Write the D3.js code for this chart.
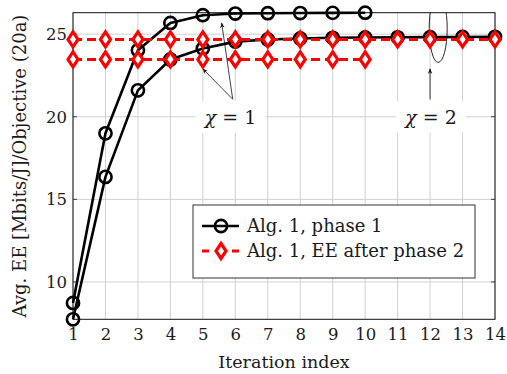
<!DOCTYPE html>
<html>
<head>
<meta charset="utf-8">
<script src="https://cdn.jsdelivr.net/npm/d3@7"></script>
<style>
  body { margin: 0; background: #fff; }
</style>
</head>
<body>
<svg id="chart" width="507" height="374"></svg>
<script>
// iteration index
var iters = [1, 2, 3, 4, 5, 6, 7, 8, 9, 10, 11, 12, 13, 14];
// Alg. 1, phase 1 (chi = 1, 10 iterations)
var phase1_chi1 = [8.73, 19.0, 24.03, 25.68, 26.15, 26.25, 26.27, 26.28, 26.29, 26.3];
// Alg. 1, phase 1 (chi = 2, 14 iterations)
var phase1_chi2 = [7.74, 16.36, 21.6, 23.47, 24.13, 24.55, 24.68, 24.74, 24.78, 24.8, 24.81, 24.82, 24.83, 24.84];
// EE after phase 2
var ee_chi1 = [23.47, 23.47, 23.47, 23.47, 23.47, 23.47, 23.47, 23.47, 23.47, 23.47];
var ee_chi2 = [24.68, 24.68, 24.68, 24.68, 24.68, 24.68, 24.68, 24.68, 24.68, 24.68, 24.68, 24.68, 24.68, 24.68];
var yTicks = [10, 15, 20, 25];
var legendLabels = ["Alg. 1, phase 1", "Alg. 1, EE after phase 2"];

var FONT = "'DejaVu Serif', 'Liberation Serif', serif";
var TXT = "#1a1a1a";

var svg = d3.select("#chart");
var x = d3.scaleLinear().domain([1, 14]).range([73, 495]);
var y = d3.scaleLinear().domain([7.74, 26.3]).range([319.3, 12.7]);

var defs = svg.append("defs");
defs.append("clipPath").attr("id", "plotclip")
  .append("rect").attr("x", 73).attr("y", 12.7).attr("width", 422).attr("height", 306.6);
defs.append("marker").attr("id", "arr")
  .attr("viewBox", "0 0 10 10").attr("refX", 9).attr("refY", 5)
  .attr("markerWidth", 7).attr("markerHeight", 7).attr("orient", "auto")
  .append("path").attr("d", "M0,1 L10,5 L0,9 L3,5 Z").attr("fill", "#111");

// grid
var grid = svg.append("g");
grid.selectAll(".gx").data(iters).enter().append("line")
  .attr("x1", function(d){ return x(d); }).attr("x2", function(d){ return x(d); })
  .attr("y1", y.range()[0]).attr("y2", y.range()[1])
  .attr("stroke", "#d0d0d0").attr("stroke-width", 1);
grid.selectAll(".gy").data(yTicks).enter().append("line")
  .attr("x1", x.range()[0]).attr("x2", x.range()[1])
  .attr("y1", function(d){ return y(d); }).attr("y2", function(d){ return y(d); })
  .attr("stroke", "#d0d0d0").attr("stroke-width", 1);

// axes
var xAxis = d3.axisBottom(x).tickValues(iters).tickSize(0).tickPadding(9).tickFormat(d3.format("d"));
var yAxis = d3.axisLeft(y).tickValues(yTicks).tickSize(0).tickPadding(6);
var gx = svg.append("g").attr("transform", "translate(0," + y.range()[0] + ")").call(xAxis);
var gy = svg.append("g").attr("transform", "translate(" + x.range()[0] + ",0)").call(yAxis);
[gx, gy].forEach(function(g){
  g.select(".domain").remove();
  g.attr("font-family", FONT).attr("font-size", 16.5);
  g.selectAll("text").attr("fill", TXT);
});
// small inner ticks
svg.append("g").selectAll("line").data(yTicks).enter().append("line")
  .attr("x1", x(1)).attr("x2", x(1) + 4)
  .attr("y1", function(d){ return y(d); }).attr("y2", function(d){ return y(d); })
  .attr("stroke", "#444");
svg.append("g").selectAll("line").data(yTicks).enter().append("line")
  .attr("x1", x(14)).attr("x2", x(14) - 4)
  .attr("y1", function(d){ return y(d); }).attr("y2", function(d){ return y(d); })
  .attr("stroke", "#444");

// annotation label boxes (white behind text, covering grid)
function chiLabel(cx, cy, num) {
  svg.append("rect").attr("x", x(cx) - 35).attr("y", y(cy) - 16)
    .attr("width", 70).attr("height", 32).attr("fill", "#fff");
  var t = svg.append("text").attr("x", x(cx)).attr("y", y(cy) + 7)
    .attr("text-anchor", "middle").attr("font-family", FONT).attr("font-size", 19).attr("fill", TXT);
  t.append("tspan").attr("font-style", "italic").text("χ");
  t.append("tspan").text(" = " + num);
}

// plot frame
svg.append("rect").attr("x", x(1)).attr("y", y.range()[1])
  .attr("width", x(14) - x(1)).attr("height", y.range()[0] - y.range()[1])
  .attr("fill", "none").attr("stroke", "#111").attr("stroke-width", 1);

chiLabel(5.85, 20, 1);
chiLabel(12.03, 20, 2);

// arrows
var arrows = [
  [5.92, 21.06, 5.0, 22.9],
  [5.92, 21.06, 5.58, 25.68],
  [12.0, 21.06, 12.0, 22.9]
];
svg.append("g").selectAll("line").data(arrows).enter().append("line")
  .attr("x1", function(d){ return x(d[0]); }).attr("y1", function(d){ return y(d[1]); })
  .attr("x2", function(d){ return x(d[2]); }).attr("y2", function(d){ return y(d[3]); })
  .attr("stroke", "#111").attr("stroke-width", 0.8).attr("marker-end", "url(#arr)");

var plot = svg.append("g").attr("clip-path", "url(#plotclip)");
plot.append("ellipse").attr("cx", x(12.25)).attr("cy", y(25.35))
  .attr("rx", 9).attr("ry", 34).attr("fill", "none").attr("stroke", "#111").attr("stroke-width", 0.9);

var line = d3.line().x(function(d){ return x(d[0]); }).y(function(d){ return y(d[1]); });
function pairs(vals) { return vals.map(function(v, i){ return [iters[i], v]; }); }

var marks = svg.append("g");
function blackSeries(vals) {
  var p = pairs(vals);
  marks.append("path").datum(p).attr("d", line)
    .attr("fill", "none").attr("stroke", "#000").attr("stroke-width", 2.6).attr("stroke-linejoin", "round");
  marks.append("g").selectAll("circle").data(p).enter().append("circle")
    .attr("cx", function(d){ return x(d[0]); }).attr("cy", function(d){ return y(d[1]); })
    .attr("r", 6.1).attr("fill", "none").attr("stroke", "#000").attr("stroke-width", 2.6);
}
var diamond = "M0,-7.5 L5,0 L0,7.5 L-5,0 Z";
function redSeries(vals) {
  var p = pairs(vals);
  marks.append("path").datum(p).attr("d", line)
    .attr("fill", "none").attr("stroke", "#ff0000").attr("stroke-width", 3).attr("stroke-dasharray", "9,5");
  marks.append("g").selectAll("path").data(p).enter().append("path")
    .attr("transform", function(d){ return "translate(" + x(d[0]) + "," + y(d[1]) + ")"; })
    .attr("d", diamond).attr("fill", "#fff").attr("stroke", "#ff0000").attr("stroke-width", 3.2);
}
blackSeries(phase1_chi1);
blackSeries(phase1_chi2);
redSeries(ee_chi2);
redSeries(ee_chi1);

// legend
var lg = svg.append("g").attr("transform", "translate(193,205)")
  .attr("font-family", FONT).attr("font-size", 18);
lg.append("rect").attr("width", 282).attr("height", 73).attr("fill", "#fff").attr("stroke", "#333").attr("stroke-width", 1);
var r1 = lg.append("g").attr("transform", "translate(0,21)");
r1.append("line").attr("x1", 9).attr("x2", 46).attr("stroke", "#000").attr("stroke-width", 2.6);
r1.append("circle").attr("cx", 28).attr("r", 6.1).attr("fill", "none").attr("stroke", "#000").attr("stroke-width", 2.6);
r1.append("text").attr("x", 54).attr("y", 6).attr("fill", TXT).text(legendLabels[0]);
var r2 = lg.append("g").attr("transform", "translate(0,46)");
r2.append("line").attr("x1", 9).attr("x2", 46).attr("stroke", "#ff0000").attr("stroke-width", 3).attr("stroke-dasharray", "7,8");
r2.append("path").attr("transform", "translate(28,0)").attr("d", diamond).attr("fill", "#fff").attr("stroke", "#ff0000").attr("stroke-width", 3.2);
r2.append("text").attr("x", 54).attr("y", 6).attr("fill", TXT).text(legendLabels[1]);

// axis titles
svg.append("text").attr("x", 284).attr("y", 368).attr("text-anchor", "middle")
  .attr("font-family", FONT).attr("font-size", 17.5).attr("fill", TXT).text("Iteration index");
svg.append("text").attr("transform", "translate(26,166) rotate(-90)").attr("text-anchor", "middle")
  .attr("font-family", FONT).attr("font-size", 18).attr("fill", TXT).text("Avg. EE [Mbits/J]/Objective (20a)");
</script>
</body>
</html>
